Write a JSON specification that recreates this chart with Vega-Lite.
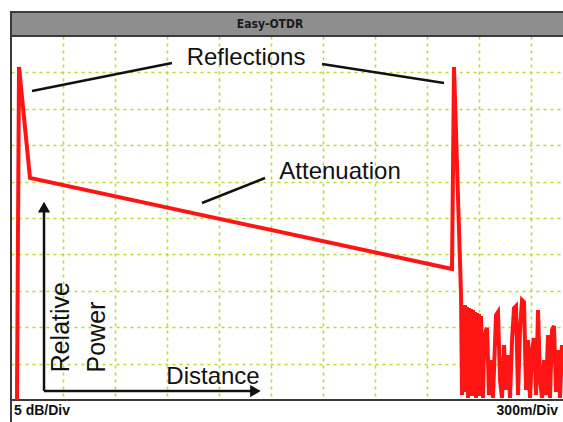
{
  "$schema": "https://vega.github.io/schema/vega-lite/v6.json",
  "width": 552,
  "height": 364,
  "autosize": {"type": "none"},
  "padding": {"left": 11, "top": 36, "right": 0, "bottom": 22},
  "background": "#ffffff",
  "config": {"view": {"stroke": null}},
  "datasets": {
    "trace": [
      {"i": 0, "x": 0.115, "y": 0},
      {"i": 1, "x": 0.154, "y": 9.15},
      {"i": 2, "x": 0.365, "y": 6.1},
      {"i": 3, "x": 8.481, "y": 3.6},
      {"i": 4, "x": 8.519, "y": 9.15},
      {"i": 5, "x": 8.654, "y": 2.88},
      {"i": 6, "x": 8.673, "y": 0.137},
      {"i": 7, "x": 8.692, "y": 2.582},
      {"i": 8, "x": 8.712, "y": 0.22},
      {"i": 9, "x": 8.731, "y": 2.61},
      {"i": 10, "x": 8.75, "y": 0.549},
      {"i": 11, "x": 8.769, "y": 2.555},
      {"i": 12, "x": 8.788, "y": 0.055},
      {"i": 13, "x": 8.808, "y": 2.527},
      {"i": 14, "x": 8.827, "y": 0.824},
      {"i": 15, "x": 8.846, "y": 2.5},
      {"i": 16, "x": 8.865, "y": 0.11},
      {"i": 17, "x": 8.885, "y": 2.473},
      {"i": 18, "x": 8.904, "y": 1.099},
      {"i": 19, "x": 8.923, "y": 2.418},
      {"i": 20, "x": 8.942, "y": 0.055},
      {"i": 21, "x": 8.962, "y": 2.39},
      {"i": 22, "x": 8.981, "y": 0.412},
      {"i": 23, "x": 9.0, "y": 2.363},
      {"i": 24, "x": 9.019, "y": 0.11},
      {"i": 25, "x": 9.038, "y": 2.308},
      {"i": 26, "x": 9.058, "y": 1.374},
      {"i": 27, "x": 9.077, "y": 0.055},
      {"i": 28, "x": 9.096, "y": 1.511},
      {"i": 29, "x": 9.135, "y": 1.923},
      {"i": 30, "x": 9.154, "y": 1.978},
      {"i": 31, "x": 9.192, "y": 0.137},
      {"i": 32, "x": 9.231, "y": 1.099},
      {"i": 33, "x": 9.269, "y": 0.055},
      {"i": 34, "x": 9.327, "y": 2.335},
      {"i": 35, "x": 9.365, "y": 2.418},
      {"i": 36, "x": 9.404, "y": 0.549},
      {"i": 37, "x": 9.442, "y": 0.055},
      {"i": 38, "x": 9.481, "y": 1.511},
      {"i": 39, "x": 9.519, "y": 0.275},
      {"i": 40, "x": 9.558, "y": 1.236},
      {"i": 41, "x": 9.596, "y": 0.055},
      {"i": 42, "x": 9.635, "y": 1.648},
      {"i": 43, "x": 9.673, "y": 2.527},
      {"i": 44, "x": 9.712, "y": 2.582},
      {"i": 45, "x": 9.75, "y": 0.137},
      {"i": 46, "x": 9.788, "y": 1.923},
      {"i": 47, "x": 9.827, "y": 2.747},
      {"i": 48, "x": 9.865, "y": 2.692},
      {"i": 49, "x": 9.904, "y": 0.275},
      {"i": 50, "x": 9.942, "y": 1.648},
      {"i": 51, "x": 9.981, "y": 0.055},
      {"i": 52, "x": 10.019, "y": 1.374},
      {"i": 53, "x": 10.058, "y": 1.703},
      {"i": 54, "x": 10.096, "y": 0.137},
      {"i": 55, "x": 10.135, "y": 2.473},
      {"i": 56, "x": 10.173, "y": 0.549},
      {"i": 57, "x": 10.212, "y": 0.055},
      {"i": 58, "x": 10.25, "y": 1.099},
      {"i": 59, "x": 10.288, "y": 0.137},
      {"i": 60, "x": 10.327, "y": 1.786},
      {"i": 61, "x": 10.365, "y": 0.055},
      {"i": 62, "x": 10.404, "y": 1.923},
      {"i": 63, "x": 10.442, "y": 2.033},
      {"i": 64, "x": 10.481, "y": 0.22},
      {"i": 65, "x": 10.519, "y": 1.374},
      {"i": 66, "x": 10.558, "y": 0.055},
      {"i": 67, "x": 10.596, "y": 1.511}
    ],
    "leaders": [
      {"x": 0.404, "y": 8.489, "x2": 3.096, "y2": 9.258},
      {"x": 5.981, "y": 9.231, "x2": 8.327, "y2": 8.709},
      {"x": 3.673, "y": 5.412, "x2": 4.885, "y2": 6.099},
      {"x": 0.635, "y": 0.247, "x2": 0.635, "y2": 5.3},
      {"x": 0.635, "y": 0.247, "x2": 4.7, "y2": 0.247}
    ],
    "labels": [
      {"x": 4.52, "y": 9.4, "t": "Reflections"},
      {"x": 6.327, "y": 6.26, "t": "Attenuation"},
      {"x": 3.885, "y": 0.632, "t": "Distance"}
    ],
    "vlabels": [
      {"x": 0.962, "y": 2.0, "t": "Relative"},
      {"x": 1.654, "y": 1.73, "t": "Power"}
    ]
  },
  "encoding": {
    "x": {"field": "x", "type": "quantitative", "scale": {"domain": [0, 10.615], "nice": false, "zero": false},
      "axis": {"values": [1,2,3,4,5,6,7,8,9,10], "grid": true, "gridColor": "#b4dc32", "gridDash": [3, 4], "gridWidth": 1.6, "labels": false, "ticks": false, "domain": false, "title": null}},
    "y": {"field": "y", "type": "quantitative", "scale": {"domain": [0, 10], "nice": false, "zero": false},
      "axis": {"values": [1,2,3,4,5,6,7,8,9], "grid": true, "gridColor": "#b4dc32", "gridDash": [3, 4], "gridWidth": 1.6, "labels": false, "ticks": false, "domain": false, "title": null}}
  },
  "layer": [
    {
      "data": {"values": [{"x": 0, "x2": 11, "y": 10, "y2": 10.66}]},
      "mark": {"type": "rect", "fill": "#8e8e8e", "stroke": "#3a3a3a", "strokeWidth": 2},
      "encoding": {"x2": {"field": "x2"}, "y2": {"field": "y2"}}
    },
    {
      "data": {"values": [{"x": 0, "x2": 11, "y": -0.7, "y2": 10}]},
      "mark": {"type": "rect", "fill": null, "fillOpacity": 0, "stroke": "#3a3a3a", "strokeWidth": 2},
      "encoding": {"x2": {"field": "x2"}, "y2": {"field": "y2"}}
    },
    {
      "data": {"values": [{"x": 0, "x2": 11, "y": 0}]},
      "mark": {"type": "rule", "stroke": "#3a3a3a", "strokeWidth": 2},
      "encoding": {"x2": {"field": "x2"}}
    },
    {
      "data": {"values": [{"x": 4.981, "y": 10.33, "t": "Easy-OTDR"}]},
      "mark": {"type": "text", "font": "DejaVu Sans Condensed, DejaVu Sans, sans-serif", "fontSize": 12, "fontWeight": "bold", "color": "#1a1a1a", "align": "center", "baseline": "middle"},
      "encoding": {"text": {"field": "t"}}
    },
    {
      "data": {"values": [{"x": 0.058, "y": -0.3, "t": "5 dB/Div"}]},
      "mark": {"type": "text", "font": "Liberation Sans", "fontSize": 14, "fontWeight": "bold", "color": "#111111", "align": "left", "baseline": "middle"},
      "encoding": {"text": {"field": "t"}}
    },
    {
      "data": {"values": [{"x": 10.52, "y": -0.3, "t": "300m/Div"}]},
      "mark": {"type": "text", "font": "Liberation Sans", "fontSize": 14, "fontWeight": "bold", "color": "#111111", "align": "right", "baseline": "middle"},
      "encoding": {"text": {"field": "t"}}
    },
    {
      "data": {"name": "leaders"},
      "mark": {"type": "rule", "stroke": "#111111", "strokeWidth": 2.5},
      "encoding": {"x2": {"field": "x2"}, "y2": {"field": "y2"}}
    },
    {
      "data": {"values": [{"x": 0.635, "y": 5.3}]},
      "mark": {"type": "point", "shape": "triangle-up", "filled": true, "color": "#111111", "size": 150, "opacity": 1},
      "encoding": {}
    },
    {
      "data": {"values": [{"x": 4.7, "y": 0.247}]},
      "mark": {"type": "point", "shape": "triangle-right", "filled": true, "color": "#111111", "size": 150, "opacity": 1},
      "encoding": {}
    },
    {
      "data": {"name": "labels"},
      "mark": {"type": "text", "font": "Liberation Sans", "fontSize": 24, "color": "#111111", "align": "center", "baseline": "middle"},
      "encoding": {"text": {"field": "t"}}
    },
    {
      "data": {"name": "vlabels"},
      "mark": {"type": "text", "font": "Liberation Sans", "fontSize": 25, "color": "#111111", "align": "center", "baseline": "middle", "angle": 270},
      "encoding": {"text": {"field": "t"}}
    },
    {
      "data": {"name": "trace"},
      "mark": {"type": "line", "color": "#ff1414", "strokeWidth": 4, "strokeJoin": "miter"},
      "encoding": {"order": {"field": "i", "type": "quantitative"}}
    }
  ]
}
